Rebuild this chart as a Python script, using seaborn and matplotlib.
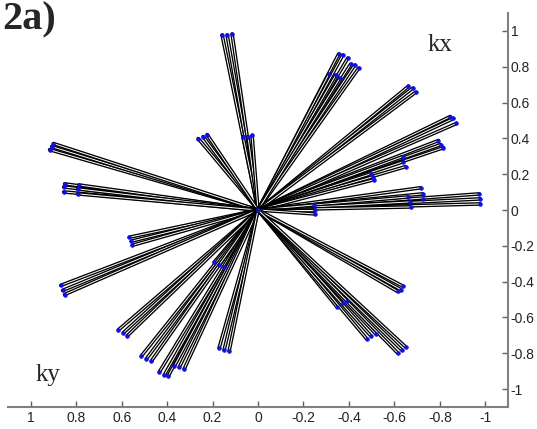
import matplotlib
matplotlib.use("Agg")
import matplotlib.pyplot as plt
from matplotlib import font_manager as fm
import seaborn as sns
import pandas as pd

# Endpoints of the rays (horizontal axis = ky, vertical axis = kx)
ky_end = [0.158, 0.136, 0.114, 0.066, 0.044, 0.026, 0.263, 0.241, 0.224,
          0.917, 0.908, 0.900, 0.851, 0.855, 0.855, 0.789, 0.794, 0.794,
          -0.355, -0.373, -0.395, -0.408, -0.425, -0.443, -0.311, -0.342, -0.360,
          -0.662, -0.680, -0.693, -0.846, -0.860, -0.873, -0.794, -0.803, -0.816,
          -0.636, -0.640, -0.649, -0.496, -0.504, -0.509, -0.715, -0.724, -0.728,
          -0.974, -0.978, -0.978, -0.662, -0.667, -0.671, -0.246, -0.250, -0.250,
          0.566, 0.557, 0.553, 0.868, 0.860, 0.851, 0.193, 0.171, 0.149,
          0.614, 0.592, 0.575, 0.513, 0.491, 0.469, 0.434, 0.412, 0.395,
          0.368, 0.346, 0.325, 0.171, 0.149, 0.127,
          -0.614, -0.627, -0.640, -0.346, -0.373, -0.390, -0.478, -0.496, -0.518,
          -0.614, -0.632, -0.649]
kx_end = [0.978, 0.978, 0.983, 0.410, 0.410, 0.416, 0.399, 0.410, 0.421,
          0.337, 0.354, 0.371, 0.146, 0.129, 0.101, 0.140, 0.118, 0.090,
          0.871, 0.865, 0.848, 0.815, 0.809, 0.792, 0.758, 0.753, 0.736,
          0.691, 0.680, 0.657, 0.522, 0.511, 0.483, 0.388, 0.365, 0.348,
          0.298, 0.270, 0.242, 0.202, 0.185, 0.169, 0.124, 0.090, 0.062,
          0.090, 0.062, 0.034, 0.073, 0.045, 0.017, 0.028, 0.000, -0.022,
          -0.152, -0.174, -0.197, -0.421, -0.449, -0.472, -0.292, -0.309, -0.320,
          -0.669, -0.685, -0.702, -0.815, -0.831, -0.843, -0.904, -0.921, -0.927,
          -0.871, -0.876, -0.888, -0.770, -0.781, -0.787,
          -0.455, -0.444, -0.427, -0.539, -0.517, -0.506, -0.719, -0.702, -0.691,
          -0.798, -0.781, -0.764]

tick_vals = [1, 0.8, 0.6, 0.4, 0.2, 0, -0.2, -0.4, -0.6, -0.8, -1]
tick_labels = ["1", "0.8", "0.6", "0.4", "0.2", "0", "-0.2", "-0.4", "-0.6", "-0.8", "-1"]

ends = pd.DataFrame({"ky": ky_end + [0.0], "kx": kx_end + [0.0]})

sns.set_style("white")
plt.rcParams["font.family"] = ["Liberation Sans", "DejaVu Sans"]

bold_serif = None
for f in fm.fontManager.ttflist:
    if f.name == "Liberation Serif" and f.weight in (700, "bold") and f.style == "normal":
        bold_serif = f.fname
        break
if bold_serif is not None:
    title_fp = fm.FontProperties(fname=bold_serif, size=29)
else:
    title_fp = fm.FontProperties(family="DejaVu Serif", weight="bold", size=26)

fig = plt.figure(figsize=(5.37, 4.29), dpi=100)
ax = fig.add_axes([8 / 537, 22 / 429, 500 / 537, 394 / 429])

# each ray: black outline with a thin white core, drawn one after the other
for h, v in zip(ky_end, kx_end):
    seg = pd.DataFrame({"ky": [0.0, h], "kx": [0.0, v]})
    sns.lineplot(data=seg, x="ky", y="kx", estimator=None, sort=False,
                 color="black", lw=2.6, ax=ax, legend=False)
    sns.lineplot(data=seg, x="ky", y="kx", estimator=None, sort=False,
                 color="white", lw=0.7, ax=ax, legend=False)

sns.scatterplot(data=ends, x="ky", y="kx", color="#1010e0", s=7, marker="o",
                edgecolor="#1010e0", linewidth=0.5, ax=ax, zorder=5)

ax.set_xlim(1.1, -1.1)
ax.set_ylim(-1.1, 1.1)
ax.set_xlabel("")
ax.set_ylabel("")

for s in ["top", "left"]:
    ax.spines[s].set_visible(False)
for s in ["bottom", "right"]:
    ax.spines[s].set_visible(True)
    ax.spines[s].set_color("#808080")
    ax.spines[s].set_linewidth(1.5)

ax.set_xticks(tick_vals)
ax.set_xticklabels(tick_labels)
ax.set_yticks(tick_vals)
ax.set_yticklabels(tick_labels)
ax.yaxis.tick_right()
ax.tick_params(axis="both", direction="in", length=4, width=1, color="#606060",
               labelsize=10, labelcolor="#222222", pad=3)
ax.tick_params(axis="x", bottom=True, top=False)
ax.tick_params(axis="y", right=True, left=False, pad=2)

fig.text(2 / 537, 1 - 1 / 429, "2a)", fontproperties=title_fp,
         va="top", ha="left")
ax.text(0.84, 0.92, "kx", transform=ax.transAxes, family="Liberation Serif",
        fontsize=18, va="center", ha="left")
ax.text(0.055, 0.08, "ky", transform=ax.transAxes, family="Liberation Serif",
        fontsize=18, va="center", ha="left")

fig.savefig("out.png", dpi=100)
